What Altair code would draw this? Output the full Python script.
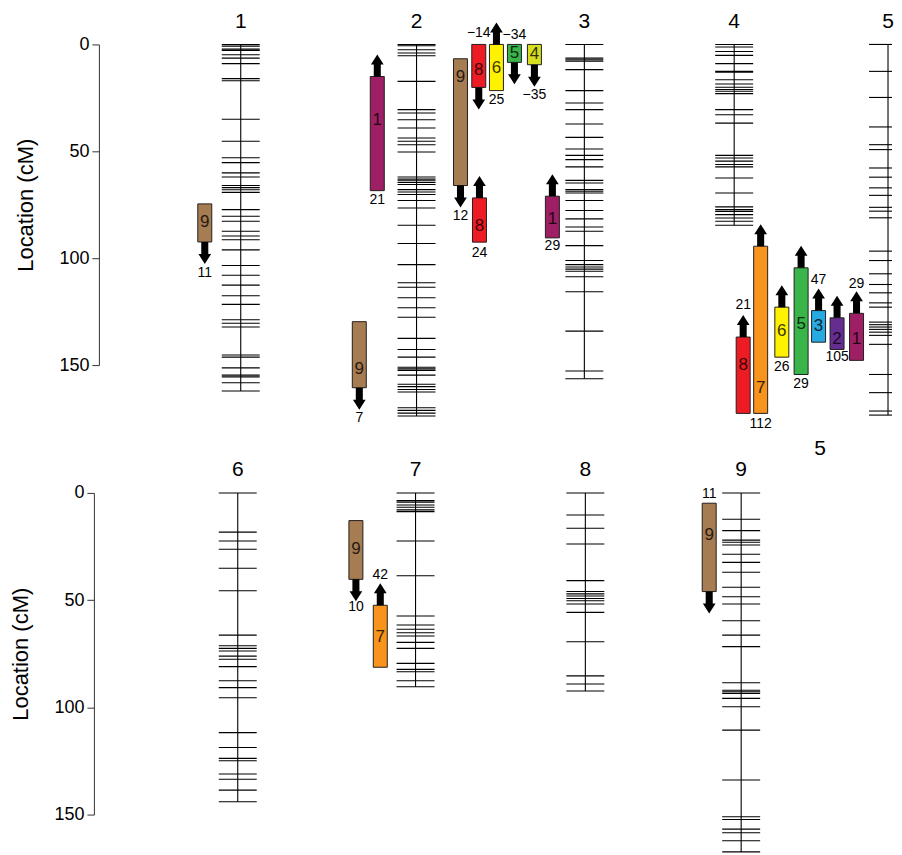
import altair as alt
import pandas as pd

FONT = "Liberation Sans"

# ---------------- chromosomes ----------------
top_chroms = ["1", "2", "3", "4", "5"]
top_chrom_x = [240, 416, 584, 734, 888]
top_chrom_len = [162.1, 173.8, 156.4, 84.6, 173.4]

bottom_chroms = ["6", "7", "8", "9"]
bottom_chrom_x = [237, 415, 585, 741]
bottom_chrom_len = [144.0, 90.4, 92.4, 167.4]

# ---------------- marker positions (cM) ----------------
markers_1 = [0, 0.8, 2.2, 2.8, 4.8, 6.4, 9, 16, 17, 35, 45.3, 53, 55.3, 60.1, 62, 66, 67, 68,
             69.2, 77.3, 80.4, 82.7, 87.4, 89.6, 91.4, 96.1, 103.4, 108, 112.6, 117.6, 121.6,
             128.8, 130.4, 132.2, 145.3, 146.3, 151.3, 154.7, 155.5, 158.3, 162.1]
markers_2 = [0, 0.6, 2.5, 4, 5.3, 17.3, 30.5, 32.1, 35.2, 39.1, 43.8, 45.3, 46.9, 50.3, 62, 63,
             63.8, 64.6, 65.5, 67.9, 69, 70.2, 73, 76.5, 84.6, 93.1, 103, 111.5, 113.6, 118.5,
             123.2, 127.6, 137.5, 142.7, 146.3, 151, 151.8, 152.5, 154.7, 159, 160.1, 161.4,
             162.6, 170, 171.2, 172.5, 173.8]
markers_3 = [0, 6.4, 7.2, 7.9, 11.8, 21.6, 27.4, 30.5, 37.2, 43.5, 48.9, 51.9, 53.9, 57.3, 63.6,
             64.8, 67.9, 68.7, 69.5, 73, 77.7, 81.6, 85.4, 87.4, 94.1, 101.1, 103, 104.1, 105.1,
             106.1, 108.7, 115.7, 134.1, 152.8, 156.4]
markers_4 = [0, 1.2, 3.3, 5.1, 9, 12.6, 13, 16.5, 18.5, 20, 21.1, 21.9, 23, 30.5, 32.9, 36.8,
             51.9, 53.1, 54.6, 56.2, 57.3, 62.5, 69.5, 76, 77.3, 78.1, 79.6, 81.2, 82.7, 84.6]
markers_5 = [0, 12.6, 24.8, 38.6, 46.9, 49.2, 57.8, 62.1, 67.1, 70.6, 76.2, 78, 81.1, 96.7,
             101.1, 107.3, 112.3, 116.2, 120.9, 122.9, 129.9, 131.1, 132.2, 133.3, 134.6,
             136.1, 140.3, 154.4, 162.9, 171.5, 173.4]
markers_6 = [0, 18.3, 22.4, 26.3, 35.1, 45.6, 66.3, 71.3, 72.5, 73.7, 76.1, 77.6, 81, 87.6,
             90.8, 95.5, 111.8, 118.7, 123.8, 124.9, 131.1, 133.5, 138.6, 144]
markers_7 = [0, 3.6, 4.3, 5.6, 6.7, 7.9, 8.7, 22.4, 38.6, 57.4, 61.6, 63.6, 65.2, 66.7, 69.7,
             72.5, 79.5, 82.3, 83.4, 87.6, 90.4]
markers_8 = [0, 10.3, 16.5, 23.8, 40.9, 46, 47.1, 48.1, 49.2, 50.3, 51.8, 55.7, 69.4, 85.3,
             89.1, 92.4]
markers_9 = [0, 12.3, 17.6, 22, 23, 24.3, 28.6, 32.4, 37, 44, 48.4, 51.8, 59.6, 66.3, 71.7,
             88.5, 92, 92.7, 93.5, 95.8, 99.7, 110.6, 133.9, 151, 152.3, 156.8, 158.5, 162.2,
             167.4]

top_markers = [markers_1, markers_2, markers_3, markers_4, markers_5]
bottom_markers = [markers_6, markers_7, markers_8, markers_9]

# ---------------- QTL intervals ----------------
top_qtl_trait = ["9", "1", "9", "9", "8", "6", "5", "4", "8", "1",
                 "8", "7", "6", "5", "3", "2", "1"]
top_qtl_x = [204, 376.7, 358.7, 460, 478.3, 496, 514, 534, 479, 552,
             743, 760.5, 781.7, 801, 818.5, 837, 856.5]
top_qtl_start = [74.6, 15, 129.7, 6.7, 0, 0, 0, 0, 71.8, 71,
                 136.9, 94.4, 122.9, 104.5, 124.5, 127.9, 125.8]
top_qtl_end = [92.4, 68.4, 160.6, 66, 20.1, 21.6, 8.4, 9.5, 92.5, 90.5,
               172.6, 172.6, 146.3, 154.4, 139.3, 142.7, 147.8]
top_qtl_dir = ["down", "up", "down", "down", "down", "up", "down", "down", "up", "up",
               "up", "up", "up", "up", "up", "up", "up"]
top_qtl_value = ["11", "21", "7", "12", "\u221214", "25", "\u221234", "\u221235", "24", "29",
                 "21", "112", "26", "29", "47", "105", "29"]
top_qtl_value_y = [107, 72.8, 174.6, 80.2, -5.2, 25.8, -4.2, 23.8, 97.8, 94.4,
                   122, 177.4, 150.8, 158.7, 110.4, 146.3, 112]
top_qtl_name_y = [83.2, 35.2, 152, 15.4, 11.8, 11, 4, 4.5, 85, 81.9,
                  150, 160.6, 134.1, 131, 131.5, 137.7, 138]

bottom_qtl_trait = ["9", "7", "9"]
bottom_qtl_x = [355.3, 379.7, 709]
bottom_qtl_start = [12.9, 52.4, 4.8]
bottom_qtl_end = [40.3, 81.3, 46]
bottom_qtl_dir = ["down", "up", "down"]
bottom_qtl_value = ["10", "42", "11"]
bottom_qtl_value_y = [53.1, 38.3, 0.5]
bottom_qtl_name_y = [26.3, 67, 19.6]

# extra stray label under chromosome 4/5
top_extra_text = ["5"]
top_extra_x = [820]
top_extra_y = [189.3]

trait_domain = ["1", "2", "3", "4", "5", "6", "7", "8", "9"]
trait_range = ["#9E1F63", "#662D91", "#27AAE1", "#D7DF23", "#39B54A",
               "#FFF200", "#F7941D", "#ED1C24", "#A67C52"]

DOWN_PATH = "M-0.32,0L0.32,0L0.32,1.09L0.58,1.09L0,2L-0.58,1.09L-0.32,1.09Z"
UP_PATH = "M-0.32,0L0.32,0L0.32,-1.09L0.58,-1.09L0,-2L-0.58,-1.09L-0.32,-1.09Z"


def panel(chroms, cx, clen, markers, q_trait, q_x, q_start, q_end, q_dir, q_val, q_val_y,
          q_name_y, height, axis_offset, extra=None):
    width = 790
    x0 = 98
    xs = alt.Scale(domain=[x0, x0 + width], nice=False, zero=False, padding=0)
    ys = alt.Scale(domain=[0, 150], reverse=True, nice=False, zero=False, padding=0)
    yaxis = alt.Axis(values=[0, 50, 100, 150], title="Location (cM)", grid=False,
                     domainColor="#333333", tickColor="#333333", tickSize=7,
                     labelFontSize=18, labelFont=FONT, labelColor="black", labelPadding=3,
                     titleFontSize=22, titleFont=FONT, titleFontWeight="normal",
                     titleColor="black", titlePadding=21, offset=axis_offset)

    chrom_df = pd.DataFrame({"chrom": chroms, "x": cx, "start": [0] * len(chroms), "end": clen})
    rows = []
    for name, x, ms in zip(chroms, cx, markers):
        for m in ms:
            rows.append({"chrom": name, "x": x, "pos": m})
    marker_df = pd.DataFrame(rows)
    qtl_df = pd.DataFrame({"trait": q_trait, "x": q_x, "start": q_start, "end": q_end,
                           "dir": q_dir, "value": q_val, "value_y": q_val_y,
                           "name_y": q_name_y})

    X = alt.X("x:Q", scale=xs, axis=None)

    backbone = alt.Chart(chrom_df).mark_rule(color="black", strokeWidth=1.1).encode(
        x=X, y=alt.Y("start:Q", scale=ys, axis=yaxis), y2="end:Q")

    # marker ticks: 38 px wide, cut at the right page edge like the reference
    ticks = alt.Chart(marker_df).transform_calculate(
        xl="datum.x - 19", xr="min(datum.x + 19, 892)").mark_rule(
        color="black", strokeWidth=1.1).encode(
        x=alt.X("xl:Q", scale=xs, axis=None), x2="xr:Q",
        y=alt.Y("pos:Q", scale=ys, axis=yaxis))

    chrom_labels = alt.Chart(chrom_df).transform_calculate(label_y="-10.7").mark_text(
        fontSize=21, font=FONT, color="black", baseline="middle", align="center").encode(
        x=X, y=alt.Y("label_y:Q", scale=ys, axis=yaxis), text="chrom:N")

    boxes = alt.Chart(qtl_df).mark_bar(size=14, stroke="#231F20", strokeWidth=1,
                                       opacity=1).encode(
        x=X, y=alt.Y("start:Q", scale=ys, axis=yaxis), y2="end:Q",
        color=alt.Color("trait:N", scale=alt.Scale(domain=trait_domain, range=trait_range),
                        legend=None))

    arrows = alt.Chart(qtl_df).transform_calculate(
        edge="datum.dir == 'up' ? datum.start : datum.end").mark_point(
        filled=True, size=484, opacity=1, color="black", strokeWidth=0).encode(
        x=X, y=alt.Y("edge:Q", scale=ys, axis=yaxis),
        shape=alt.Shape("dir:N", scale=alt.Scale(domain=["up", "down"],
                                                 range=[UP_PATH, DOWN_PATH]), legend=None))

    values = alt.Chart(qtl_df).mark_text(fontSize=14, font=FONT, color="black",
                                         baseline="middle", align="center").encode(
        x=X, y=alt.Y("value_y:Q", scale=ys, axis=yaxis), text="value:N")

    names = alt.Chart(qtl_df).mark_text(fontSize=17, font=FONT, color="black", opacity=0.78,
                                        baseline="middle", align="center").encode(
        x=X, y=alt.Y("name_y:Q", scale=ys, axis=yaxis), text="trait:N")

    layers = [backbone, ticks, chrom_labels, boxes, arrows, values, names]
    if extra is not None:
        ex_df = pd.DataFrame({"label": extra[0], "x": extra[1], "y": extra[2]})
        layers.append(alt.Chart(ex_df).mark_text(fontSize=21, font=FONT, color="black",
                                                 baseline="middle", align="center").encode(
            x=X, y=alt.Y("y:Q", scale=ys, axis=yaxis), text="label:N"))
    return alt.layer(*layers).properties(width=width, height=height)


top = panel(top_chroms, top_chrom_x, top_chrom_len, top_markers, top_qtl_trait, top_qtl_x,
            top_qtl_start, top_qtl_end, top_qtl_dir, top_qtl_value, top_qtl_value_y,
            top_qtl_name_y, height=321, axis_offset=0,
            extra=(top_extra_text, top_extra_x, top_extra_y))
bottom = panel(bottom_chroms, bottom_chrom_x, bottom_chrom_len, bottom_markers,
               bottom_qtl_trait, bottom_qtl_x, bottom_qtl_start, bottom_qtl_end,
               bottom_qtl_dir, bottom_qtl_value, bottom_qtl_value_y, bottom_qtl_name_y,
               height=322, axis_offset=5)

chart = alt.vconcat(top, bottom, spacing=-1).properties(
    padding={"left": 1, "top": 2, "right": 0, "bottom": 0}
).configure_view(stroke=None)

chart.save("out.html", embed_options={"renderer": "svg", "actions": False})
